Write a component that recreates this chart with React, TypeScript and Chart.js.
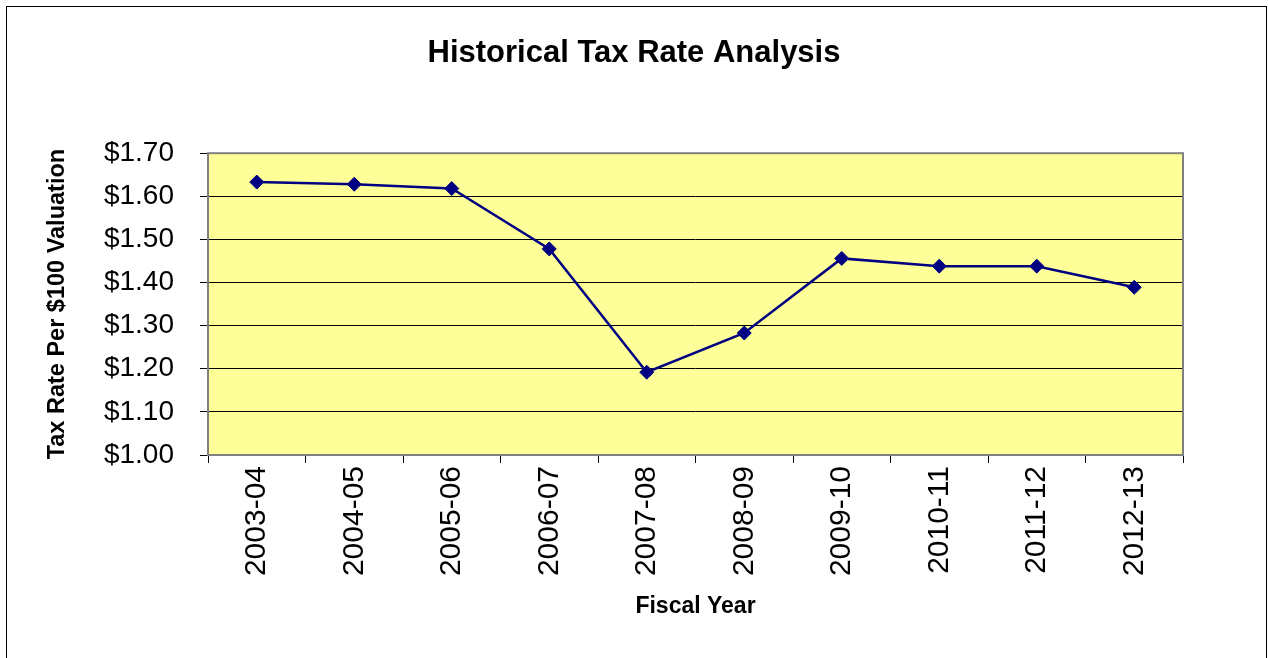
import React, { useEffect, useRef } from 'react';
import { Chart, registerables } from 'chart.js';

Chart.register(...registerables);

const categories = ['2003-04', '2004-05', '2005-06', '2006-07', '2007-08', '2008-09', '2009-10', '2010-11', '2011-12', '2012-13'];
const taxRates = [1.633, 1.628, 1.618, 1.478, 1.192, 1.283, 1.456, 1.438, 1.438, 1.389];
const yMin = 1.0;
const yMax = 1.7;
const yStep = 0.1;
const chartTitle = 'Historical Tax Rate Analysis';
const yTitle = 'Tax Rate Per $100 Valuation';
const xTitle = 'Fiscal Year';

const FONT = '"Liberation Sans", Arial, Helvetica, sans-serif';

const plotFrame = {
  id: 'plotFrame',
  beforeDraw(chart: any) {
    const { ctx, chartArea: a, width, height } = chart;
    ctx.save();
    ctx.fillStyle = '#ffffff';
    ctx.fillRect(0, 0, width, height);
    ctx.strokeStyle = '#000000';
    ctx.lineWidth = 1;
    ctx.strokeRect(6.5, 6.5, width - 8, height + 20);
    ctx.fillStyle = '#FFFF99';
    ctx.fillRect(a.left, a.top, a.right - a.left, a.bottom - a.top);
    ctx.restore();
  },
  beforeDatasetsDraw(chart: any) {
    const { ctx, chartArea: a } = chart;
    ctx.save();
    ctx.strokeStyle = '#808080';
    ctx.lineWidth = 2;
    ctx.strokeRect(a.left, a.top, a.right - a.left, a.bottom - a.top);
    ctx.restore();
  },
};

export default function App() {
  const canvasRef = useRef<HTMLCanvasElement | null>(null);

  useEffect(() => {
    document.body.style.margin = '0';
    const canvas = canvasRef.current;
    if (!canvas) return;
    const chart = new Chart(canvas, {
      type: 'line',
      data: {
        labels: categories,
        datasets: [
          {
            label: 'Tax Rate',
            data: taxRates,
            borderColor: '#000080',
            borderWidth: 2.5,
            backgroundColor: '#000080',
            pointStyle: 'rectRot',
            pointRadius: 7,
            pointBorderWidth: 1,
            pointBackgroundColor: '#000080',
            pointBorderColor: '#000080',
            tension: 0,
            fill: false,
          },
        ],
      },
      options: {
        responsive: false,
        animation: false,
        devicePixelRatio: 1,
        layout: { padding: 0 },
        plugins: {
          legend: { display: false },
          tooltip: { enabled: false },
          title: {
            display: true,
            text: chartTitle,
            color: '#000000',
            font: { family: FONT, size: 31, weight: 'bold' },
            padding: { top: 35, bottom: 81 },
          },
        },
        scales: {
          x: {
            type: 'category',
            offset: true,
            grid: {
              offset: true,
              drawOnChartArea: false,
              drawTicks: true,
              tickLength: 8,
              color: '#000000',
              lineWidth: 1,
            },
            border: { display: false },
            ticks: {
              autoSkip: false,
              minRotation: 90,
              maxRotation: 90,
              padding: 3,
              color: '#000000',
              font: { family: FONT, size: 30 },
            },
            title: {
              display: true,
              text: xTitle,
              color: '#000000',
              font: { family: FONT, size: 23, weight: 'bold' },
              padding: { top: 0, bottom: 38 },
            },
            afterFit(scale: any) {
              scale.height = 203;
            },
          },
          y: {
            type: 'linear',
            position: 'left',
            min: yMin,
            max: yMax,
            grid: {
              color: '#000000',
              lineWidth: 1,
              tickLength: 8,
              drawTicks: true,
            },
            border: { display: false },
            ticks: {
              stepSize: yStep,
              padding: 26,
              color: '#000000',
              font: { family: FONT, size: 28 },
              callback: (v: any) => '$' + Number(v).toFixed(2),
            },
            title: {
              display: true,
              text: yTitle,
              color: '#000000',
              font: { family: FONT, size: 23.5, weight: 'bold' },
              padding: { top: 43, bottom: 0 },
            },
            afterFit(scale: any) {
              scale.width = 208;
            },
          },
          yRight: {
            type: 'linear',
            position: 'right',
            display: true,
            grid: { display: false },
            border: { display: false },
            ticks: { display: false },
            afterFit(scale: any) {
              scale.width = 85;
            },
          },
        },
      },
      plugins: [plotFrame],
    } as any);
    return () => chart.destroy();
  }, []);

  return (
    <canvas ref={canvasRef} width={1268} height={658} style={{ display: 'block', width: 1268, height: 658 }} />
  );
}
